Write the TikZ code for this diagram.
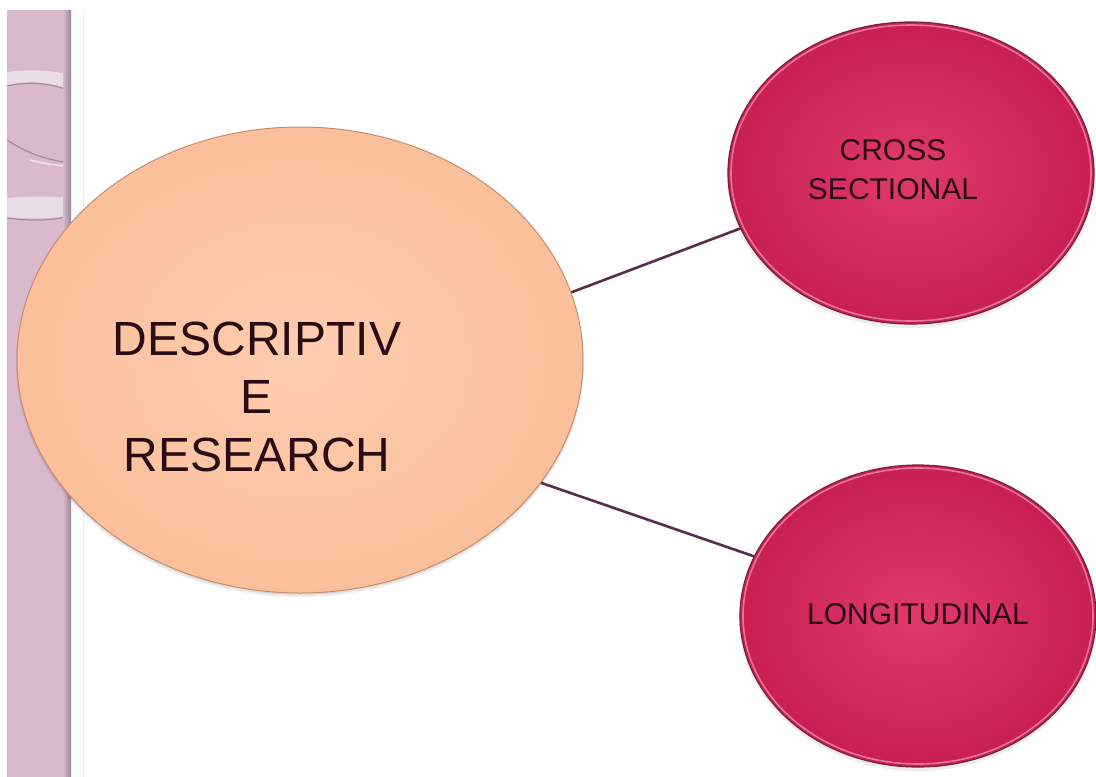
\documentclass[tikz,border=0pt]{standalone}
\usepackage{fontspec}
\setmainfont{Liberation Sans}
\usetikzlibrary{shapes.geometric}

\definecolor{stripfill}{HTML}{D8B9CD}
\definecolor{stripedge}{HTML}{9A8294}
\definecolor{stripfaint}{HTML}{F1ECF0}
\definecolor{ringlight}{HTML}{E8DDE5}
\definecolor{ringdark}{HTML}{A58C9E}
\definecolor{peach}{HTML}{FBC09B}
\definecolor{peachhi}{HTML}{FECCAE}
\definecolor{peachedge}{HTML}{C48E6C}
\definecolor{rose}{HTML}{C91F53}
\definecolor{rosehi}{HTML}{E03A6B}
\definecolor{roseedge}{HTML}{7A1F40}
\definecolor{roserim}{HTML}{F39CB7}
\definecolor{linkcol}{HTML}{5A2C4A}
\definecolor{inkdark}{HTML}{2A0C16}

\begin{document}
\begin{tikzpicture}[x=1pt,y=-1pt,
  hub/.style={ellipse, inner sep=0pt, minimum width=566pt, minimum height=466pt,
    draw=peachedge, line width=1pt, inner color=peachhi, outer color=peach},
  leaf/.style={ellipse, inner sep=0pt, draw=roseedge, line width=1.2pt,
    inner color=rosehi, outer color=rose},
  hubtext/.style={align=center, inner sep=0pt, text=inkdark,
    font=\fontsize{48}{58}\selectfont},
  leaftext/.style={align=center, inner sep=0pt, text=inkdark,
    font=\fontsize{30}{39}\selectfont},
  link/.style={draw=linkcol, line width=2.6pt},
  rim/.style={draw=roserim, line width=1.6pt, opacity=0.7},
  softshadow/.style={fill=black, opacity=0.07},
]
\useasboundingbox (0,0) rectangle (1096,777);

% side strip with its ring ornaments
\fill[stripfill] (7,10) rectangle (71,777);
\begin{scope}
  \clip (7,10) rectangle (71,777);
  \fill[ringlight] (7,72) .. controls (30,69) and (50,70) .. (71,75)
    -- (71,90) .. controls (50,82) and (30,80) .. (7,85) -- cycle;
  \draw[ringdark, line width=1.2pt] (7,86) .. controls (30,81) and (50,83) .. (71,91);
  \draw[ringdark, line width=1.2pt] (7,140) .. controls (25,152) and (45,160) .. (71,163);
  \draw[white, opacity=0.6, line width=1.5pt] (30,160) .. controls (45,164) and (60,166) .. (71,166);
  \fill[ringlight] (7,198) .. controls (30,196) and (50,196) .. (71,198)
    -- (71,215) .. controls (50,219) and (30,219) .. (7,217) -- cycle;
  \draw[ringdark, line width=1.2pt] (7,218) .. controls (30,221) and (50,221) .. (71,216);
\end{scope}
\shade[left color=stripfill, right color=stripedge] (63,10) rectangle (71,777);
\draw[stripfaint, line width=1pt] (83,10) -- (83,777);

% centre points of the three bubbles
\coordinate (hubc) at (300,360);
\coordinate (csc) at (911,173);
\coordinate (lgc) at (918,616);

% soft shadows beneath the bubbles
\fill[softshadow] ([yshift=-3pt]hubc) ellipse [x radius=284, y radius=234];
\fill[softshadow] ([yshift=-2pt]hubc) ellipse [x radius=283, y radius=233];
\fill[softshadow] ([yshift=-3pt]csc) ellipse [x radius=184, y radius=152];
\fill[softshadow] ([yshift=-3pt]lgc) ellipse [x radius=179, y radius=152];

% bubbles
\node[hub] (hub) at (hubc) {};
\node[leaf, minimum width=366pt, minimum height=302pt] (cs) at (csc) {};
\node[leaf, minimum width=356pt, minimum height=302pt] (lg) at (lgc) {};
\draw[rim] (cs.center) ellipse [x radius=180, y radius=148];
\draw[rim] (lg.center) ellipse [x radius=175, y radius=148];

% labels
\node[hubtext] (hubtxt) at (257,396.5) {DESCRIPTIV\\E\\RESEARCH};
\node[leaftext] (cstxt) at (893,170) {CROSS\\SECTIONAL};
\node[leaftext] (lgtxt) at (918,614) {LONGITUDINAL};

% connectors
\draw[link] (hub.14.7) -- (cs.198.7);
\draw[link] (hub.-27.9) -- (lg.160.6);
\end{tikzpicture}
\end{document}
